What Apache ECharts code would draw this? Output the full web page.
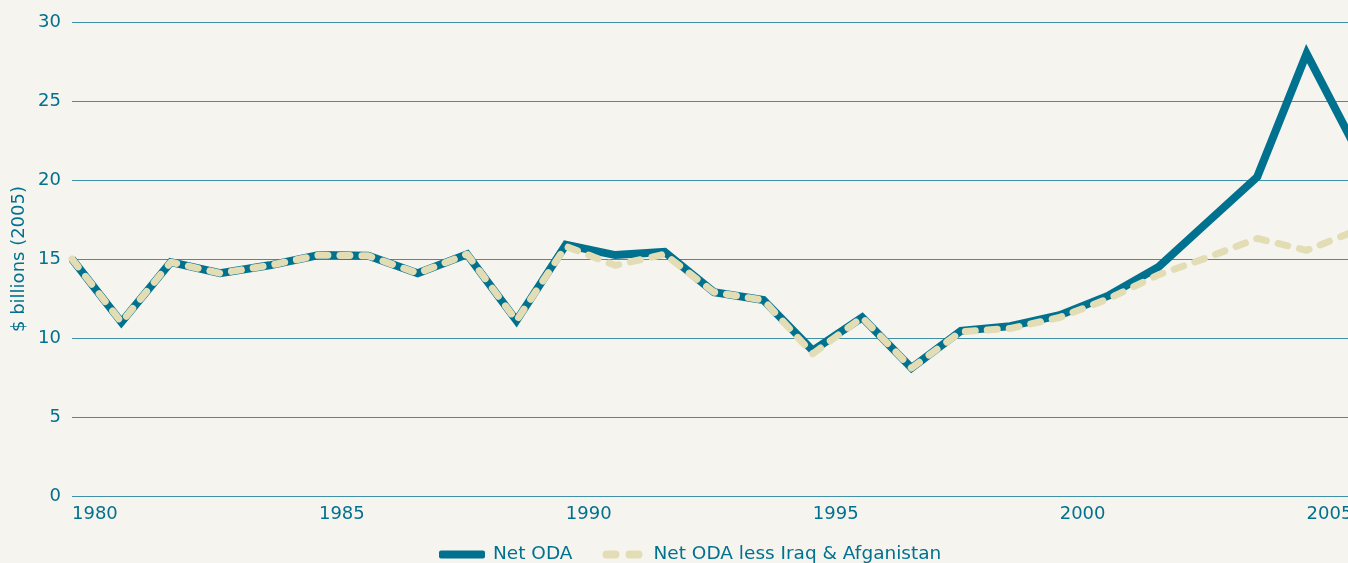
<!DOCTYPE html>
<html>
<head>
<meta charset="utf-8">
<style>
  html, body { margin: 0; padding: 0; background: #f6f4ee; }
  #main { width: 1348px; height: 563px; }
</style>
<script src="https://cdn.jsdelivr.net/npm/echarts@6/dist/echarts.min.js"></script>
</head>
<body>
<div id="main"></div>
<script>
var teal = '#00718f';
var beige = '#e3ddb6';

// years 1980..2006
var years = [1980, 1981, 1982, 1983, 1984, 1985, 1986, 1987, 1988, 1989,
  1990, 1991, 1992, 1993, 1994, 1995, 1996, 1997, 1998, 1999,
  2000, 2001, 2002, 2003, 2004, 2005, 2006];
var netOda = [15.0, 11.0, 14.8, 14.1, 14.6, 15.25, 15.2, 14.1, 15.3, 11.1,
  15.9, 15.25, 15.45, 12.9, 12.4, 9.2, 11.3, 8.1, 10.45, 10.75,
  11.45, 12.7, 14.5, 17.35, 20.2, 28.0, 22.0];
var netOdaLessIraqAfg = [15.0, 11.0, 14.8, 14.1, 14.6, 15.25, 15.2, 14.1, 15.3, 11.1,
  15.8, 14.6, 15.3, 12.9, 12.4, 9.0, 11.3, 8.1, 10.4, 10.6,
  11.3, 12.5, 14.0, 15.1, 16.3, 15.55, 16.8];
var yTicks = [0, 5, 10, 15, 20, 25, 30];

function pairs(vals) {
  return years.map(function (y, i) { return [y, vals[i]]; });
}

var font = 'DejaVu Sans';
var dashIcon = 'path://M4,0H13A4,4 0 0 1 13,8H4A4,4 0 0 1 4,0Z M27,0H36A4,4 0 0 1 36,8H27A4,4 0 0 1 27,0Z';

var chart = echarts.init(document.getElementById('main'));
chart.setOption({
  backgroundColor: '#f6f4ee',
  animation: false,
  textStyle: { fontFamily: font },
  grid: { left: 72, top: 22, width: 1284, bottom: 67, outerBoundsMode: 'none', containLabel: false },
  legend: {
    bottom: -6,
    left: 434,
    itemWidth: 46,
    itemHeight: 8,
    itemGap: 30,
    textStyle: { color: teal, fontSize: 18.5, fontFamily: font, padding: [0, 0, 0, 3] },
    data: [
      { name: 'Net ODA', icon: 'roundRect', itemStyle: { color: teal } },
      { name: 'Net ODA less Iraq & Afganistan', icon: dashIcon, itemStyle: { color: beige } }
    ]
  },
  xAxis: {
    type: 'value',
    min: 1980,
    max: 2006,
    interval: 5,
    axisLine: { show: false },
    axisTick: { show: false },
    splitLine: { show: false },
    axisLabel: {
      color: teal,
      fontSize: 18,
      fontFamily: font,
      align: 'left',
      margin: 9,
      showMaxLabel: false,
      formatter: function (v) { return String(v); }
    }
  },
  yAxis: {
    type: 'value',
    min: yTicks[0],
    max: yTicks[yTicks.length - 1],
    interval: 5,
    name: '$ billions (2005)',
    nameLocation: 'middle',
    nameGap: 44,
    nameMoveOverlap: false,
    nameTextStyle: { color: teal, fontSize: 18, fontFamily: font },
    axisLine: { show: false },
    axisTick: { show: false },
    axisLabel: { color: teal, fontSize: 18, fontFamily: font, margin: 11 },
    splitLine: { lineStyle: { color: '#3f8fa7', width: 1.2 } }
  },
  series: [
    {
      name: 'Net ODA',
      type: 'line',
      data: pairs(netOda),
      showSymbol: false,
      symbol: 'none',
      lineStyle: { color: teal, width: 8, join: 'miter' },
      itemStyle: { color: teal }
    },
    {
      name: 'Net ODA less Iraq & Afganistan',
      type: 'line',
      data: pairs(netOdaLessIraqAfg),
      showSymbol: false,
      symbol: 'none',
      lineStyle: { color: beige, width: 7, type: [10, 12], cap: 'round', join: 'round' },
      itemStyle: { color: beige }
    }
  ]
});
</script>
</body>
</html>
